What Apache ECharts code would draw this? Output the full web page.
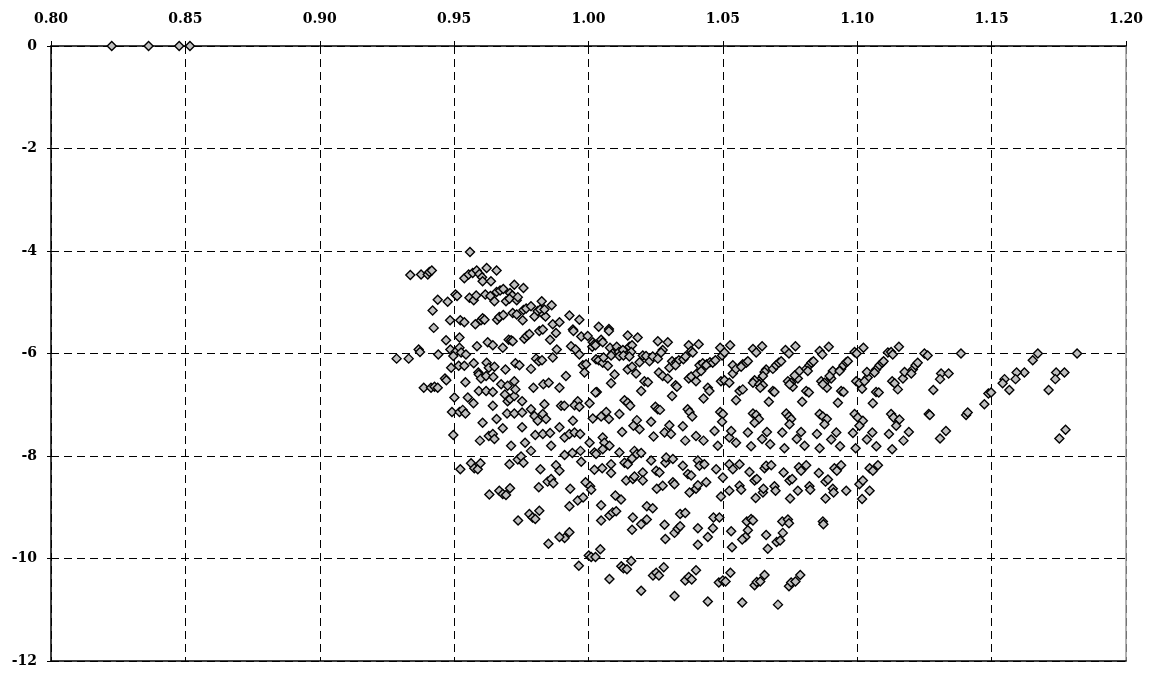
<!DOCTYPE html>
<html>
<head>
<meta charset="utf-8">
<script src="https://cdn.jsdelivr.net/npm/echarts@6/dist/echarts.min.js"></script>
<style>
html,body{margin:0;padding:0;background:#fff;}
#chart{width:1168px;height:675px;}
</style>
</head>
<body>
<div id="chart"></div>
<script>
// Axis ranges / ticks
const xMin = 0.80, xMax = 1.20, xStep = 0.05;
const yMin = -12, yMax = 0, yStep = 2;

// Data: [x, y] pairs
const axisRow = [[0.8226,0],[0.8363,0],[0.8477,0],[0.8517,0]];

const leftCloud = [
[0.9559,-4.02],[0.9337,-4.47],[0.9377,-4.46],[0.9402,-4.46],[0.9408,-4.41],[0.9417,-4.38],[0.9538,-4.53],[0.9554,-4.46],[0.9569,-4.43],[0.9584,-4.38],[0.9594,-4.45],[0.9604,-4.51],[0.9606,-4.59],[0.9621,-4.33],[0.9637,-4.59],[0.9658,-4.38],[0.9724,-4.66],[0.9758,-4.72],[0.9439,-4.95],[0.9476,-4.99],[0.9505,-4.85],[0.9511,-4.88],[0.9557,-4.91],[0.9573,-4.96],[0.9582,-4.87],[0.9616,-4.85],[0.9635,-4.88],[0.9650,-4.98],[0.9658,-4.80],[0.9671,-4.77],[0.9683,-4.74],[0.9693,-4.98],[0.9708,-4.82],[0.9716,-4.87],[0.9706,-4.93],[0.9733,-4.96],[0.9737,-4.90],[0.9826,-4.98],[0.9863,-5.06],
[0.9420,-5.16],[0.9485,-5.35],[0.9523,-5.35],[0.9538,-5.39],[0.9579,-5.43],[0.9600,-5.35],[0.9606,-5.31],[0.9613,-5.34],[0.9660,-5.34],[0.9668,-5.29],[0.9683,-5.25],[0.9718,-5.21],[0.9733,-5.24],[0.9755,-5.35],[0.9758,-5.15],[0.9768,-5.12],[0.9786,-5.08],[0.9799,-5.28],[0.9811,-5.17],[0.9820,-5.14],[0.9832,-5.24],[0.9840,-5.28],[0.9836,-5.14],[0.9867,-5.43],[0.9892,-5.39],
[0.9424,-5.50],[0.9470,-5.74],[0.9520,-5.69],[0.9585,-5.86],[0.9625,-5.78],[0.9644,-5.84],[0.9681,-5.89],[0.9703,-5.73],[0.9712,-5.74],[0.9718,-5.76],[0.9761,-5.71],[0.9770,-5.66],[0.9780,-5.62],[0.9817,-5.56],[0.9830,-5.53],[0.9857,-5.73],[0.9879,-5.60],
[0.9368,-5.92],[0.9373,-5.97],[0.9486,-5.92],[0.9505,-5.97],[0.9520,-5.89],[0.9526,-5.98],[0.9544,-6.02],[0.9286,-6.10],[0.9331,-6.10],[0.9441,-6.02],[0.9489,-6.28],[0.9517,-6.24],[0.9538,-6.24],[0.9497,-6.05],[0.9573,-6.19],[0.9590,-6.37],[0.9621,-6.18],[0.9629,-6.28],[0.9650,-6.26],[0.9691,-6.31],[0.9728,-6.19],[0.9743,-6.23],[0.9786,-6.30],[0.9805,-6.10],[0.9815,-6.15],[0.9827,-6.13],[0.9867,-6.08],[0.9882,-5.92],
[0.9466,-6.49],[0.9471,-6.52],[0.9592,-6.41],[0.9600,-6.49],[0.9619,-6.44],[0.9646,-6.46],[0.9675,-6.60],[0.9724,-6.54],[0.9699,-6.63],[0.9795,-6.67],[0.9832,-6.60],[0.9852,-6.57],[0.9892,-6.67],[0.9916,-6.44],
[0.9387,-6.67],[0.9414,-6.67],[0.9427,-6.65],[0.9439,-6.67],[0.9542,-6.56],[0.9501,-6.86],[0.9551,-6.86],[0.9572,-6.97],[0.9592,-6.73],[0.9619,-6.73],[0.9644,-6.75],[0.9689,-6.80],[0.9699,-6.93],[0.9708,-6.89],[0.9724,-6.83],[0.9728,-6.70],[0.9753,-6.93],[0.9836,-6.99],[0.9898,-7.02],
[0.9492,-7.14],[0.9520,-7.14],[0.9532,-7.10],[0.9542,-7.17],[0.9606,-7.35],[0.9644,-7.02],[0.9658,-7.28],[0.9681,-7.46],[0.9697,-7.17],[0.9724,-7.17],[0.9753,-7.15],[0.9753,-7.44],[0.9786,-7.09],[0.9799,-7.22],[0.9811,-7.31],[0.9830,-7.18],[0.9842,-7.28],[0.9910,-7.02],[0.9892,-7.44],
[0.9929,-5.26],[0.9942,-5.53],[0.9966,-5.34],[1.0038,-5.48],[1.0076,-5.52]
];

const midCloud = [
[0.9935,-5.86],[0.9944,-5.56],[0.9952,-5.92],[0.9966,-6.02],[0.9973,-5.67],[0.9997,-5.66],[1.0014,-5.87],[1.0016,-5.78],[1.0022,-5.82],[1.0026,-5.84],[1.0047,-5.73],[1.0053,-5.78],[1.0076,-5.56],[1.0080,-5.89],[1.0105,-5.87],[1.0090,-6.00],[1.0113,-5.97],[1.0128,-5.93],[1.0146,-5.65],[1.0152,-5.87],[1.0162,-5.84],[1.0183,-5.69],[1.0258,-5.76],[1.0295,-5.78],[1.0373,-5.84],[1.0410,-5.82],[1.0490,-5.89],[1.0527,-5.84],
[1.0028,-6.11],[1.0038,-6.13],[1.0053,-6.18],[1.0072,-6.24],[1.0056,-6.08],[1.0084,-6.04],[1.0115,-6.05],[1.0130,-6.04],[1.0159,-5.97],[1.0152,-6.06],[1.0190,-6.17],[1.0202,-6.04],[1.0214,-6.05],[1.0227,-6.15],[1.0239,-6.06],[1.0258,-6.10],[1.0276,-5.93],[1.0270,-5.98],[1.0311,-6.15],[1.0326,-6.17],[1.0336,-6.13],[1.0353,-6.11],[1.0361,-6.06],[1.0382,-5.95],[1.0388,-5.98],[1.0413,-6.23],[1.0425,-6.19],[1.0440,-6.21],[1.0452,-6.17],[1.0462,-6.18],[1.0472,-6.13],[1.0497,-6.04],[1.0506,-5.98],[1.0537,-6.23],
[0.9979,-6.23],[0.9991,-6.21],[0.9985,-6.37],[1.0097,-6.41],[1.0084,-6.58],[1.0146,-6.31],[1.0162,-6.26],[1.0177,-6.39],[1.0208,-6.54],[1.0221,-6.56],[1.0262,-6.37],[1.0276,-6.44],[1.0295,-6.49],[1.0301,-6.28],[1.0324,-6.23],[1.0373,-6.49],[1.0382,-6.45],[1.0400,-6.54],[1.0403,-6.39],[1.0419,-6.34],[1.0438,-6.23],[1.0444,-6.67],[1.0450,-6.73],[1.0493,-6.54],[1.0506,-6.52],[1.0524,-6.57],[1.0537,-6.39],[1.0549,-6.30],
[1.0196,-6.73],[1.0031,-6.75],[1.0026,-6.76],[1.0311,-6.83],[1.0324,-6.62],[1.0329,-6.65],[1.0428,-6.88],[1.0549,-6.91],[1.0562,-6.73],
[0.9960,-6.93],[0.9948,-7.01],[0.9966,-7.04],[1.0004,-6.97],[1.0134,-6.91],[1.0146,-6.96],[1.0155,-7.02],[1.0249,-7.04],[1.0258,-7.09],[1.0266,-7.10],[1.0369,-7.09],[1.0376,-7.14],[1.0386,-7.23],[1.0490,-7.14],[1.0500,-7.18],[1.0497,-7.33],
[1.0016,-7.27],[1.0047,-7.23],[1.0066,-7.14],[1.0076,-7.28],[1.0115,-7.18],[0.9942,-7.31],[1.0180,-7.30],[1.0167,-7.41],[1.0233,-7.33],[1.0301,-7.40],[1.0351,-7.42]
];

const rightCloud = [
[1.0612,-5.91],[1.0646,-5.86],[1.0624,-5.98],[1.0733,-5.93],[1.0770,-5.86],[1.0746,-6.00],[1.0860,-5.95],[1.0894,-5.87],[1.0870,-6.02],[1.0990,-5.97],[1.1023,-5.89],[1.0998,-6.00],[1.1114,-5.98],[1.1126,-5.97],[1.1155,-5.87],[1.1132,-6.02],
[1.0574,-6.21],[1.0587,-6.18],[1.0593,-6.15],[1.0568,-6.26],[1.0661,-6.31],[1.0686,-6.30],[1.0698,-6.23],[1.0708,-6.18],[1.0717,-6.15],[1.0655,-6.36],[1.0649,-6.44],[1.0634,-6.54],[1.0618,-6.52],[1.0612,-6.57],[1.0636,-6.60],[1.0649,-6.62],[1.0639,-6.67],
[1.0742,-6.54],[1.0754,-6.57],[1.0760,-6.65],[1.0779,-6.49],[1.0785,-6.34],[1.0767,-6.43],[1.0748,-6.60],[1.0810,-6.30],[1.0822,-6.23],[1.0829,-6.18],[1.0837,-6.15],[1.0816,-6.34],[1.0810,-6.73],[1.0820,-6.76],[1.0795,-6.94],[1.0686,-6.73],[1.0692,-6.75],[1.0671,-6.94],[1.0574,-6.70],
[1.0866,-6.54],[1.0878,-6.57],[1.0887,-6.67],[1.0903,-6.49],[1.0909,-6.34],[1.0897,-6.44],[1.0872,-6.60],[1.0940,-6.30],[1.0949,-6.23],[1.0959,-6.17],[1.0965,-6.15],[1.0934,-6.34],[1.0940,-6.73],[1.0949,-6.75],[1.0928,-6.96],
[1.0996,-6.54],[1.1008,-6.58],[1.1018,-6.69],[1.1039,-6.47],[1.1036,-6.36],[1.1027,-6.54],[1.1070,-6.31],[1.1083,-6.23],[1.1093,-6.18],[1.1098,-6.15],[1.1064,-6.37],[1.1070,-6.75],[1.1080,-6.76],[1.1058,-6.97],
[1.1130,-6.54],[1.1139,-6.58],[1.1151,-6.70],[1.1170,-6.49],[1.1176,-6.36],[1.1207,-6.31],[1.1217,-6.23],[1.1225,-6.18],[1.1201,-6.39],
[1.0612,-7.17],[1.0624,-7.20],[1.0634,-7.28],[1.0618,-7.35],[1.0736,-7.17],[1.0746,-7.23],[1.0754,-7.28],[1.0748,-7.38],[1.0860,-7.18],[1.0872,-7.23],[1.0887,-7.28],[1.0878,-7.38],[1.0990,-7.18],[1.1002,-7.25],[1.1021,-7.31],[1.1008,-7.41],[1.1126,-7.18],[1.1135,-7.25],[1.1157,-7.29],[1.1145,-7.41]
];

const farRight = [
[1.1250,-6.00],[1.1262,-6.04],[1.1386,-6.00],[1.1312,-6.39],[1.1340,-6.39],[1.1308,-6.50],[1.1283,-6.71],[1.1266,-7.18],[1.1270,-7.20],[1.1330,-7.51],[1.1308,-7.66],[1.1405,-7.20],[1.1411,-7.15],[1.1473,-6.99],[1.1488,-6.78],[1.1498,-6.76],
[1.1818,-6.00],[1.1672,-6.00],[1.1653,-6.13],[1.1622,-6.37],[1.1593,-6.37],[1.1589,-6.50],[1.1548,-6.50],[1.1541,-6.58],[1.1566,-6.71],[1.1740,-6.37],[1.1771,-6.37],[1.1737,-6.50],[1.1712,-6.71],[1.1775,-7.49],[1.1752,-7.66]
];

const lowerLeft = [
[0.9497,-7.59],[0.9596,-7.70],[0.9629,-7.61],[0.9644,-7.57],[0.9650,-7.67],[0.9712,-7.80],[0.9764,-7.74],[0.9786,-7.90],[0.9802,-7.59],[0.9830,-7.57],[0.9857,-7.55],[0.9861,-7.80],
[0.9523,-8.26],[0.9563,-8.14],[0.9575,-8.24],[0.9588,-8.26],[0.9598,-8.14],[0.9706,-8.16],[0.9737,-8.07],[0.9749,-8.01],[0.9758,-8.13],[0.9821,-8.26],[0.9879,-8.18],
[0.9631,-8.75],[0.9668,-8.68],[0.9681,-8.74],[0.9693,-8.76],[0.9708,-8.63],[0.9815,-8.61],[0.9848,-8.50],[0.9861,-8.45],[0.9869,-8.53],
[0.9738,-9.26],[0.9780,-9.13],[0.9792,-9.20],[0.9802,-9.23],[0.9817,-9.07],[0.9851,-9.71]
];

const lowerMid = [
[0.9911,-7.64],[0.9929,-7.57],[0.9948,-7.54],[0.9969,-7.57],[1.0004,-7.74],[1.0022,-7.93],[1.0028,-7.96],[1.0053,-7.64],[1.0059,-7.74],[1.0053,-7.87],[1.0078,-7.80],[1.0125,-7.53],[1.0190,-7.48],[1.0242,-7.62],[1.0283,-7.54],[1.0307,-7.57],[1.0360,-7.70],[1.0400,-7.61],[1.0428,-7.70],[1.0469,-7.51],[1.0481,-7.80],[1.0524,-7.64],[1.0549,-7.74],[1.0531,-7.51],
[0.9911,-7.98],[0.9940,-7.94],[0.9970,-7.90],[0.9973,-8.11],[0.9892,-8.29],[1.0022,-8.27],[1.0051,-8.24],[1.0084,-8.16],[1.0084,-8.33],[1.0115,-7.93],[1.0134,-8.13],[1.0146,-8.16],[1.0162,-8.05],[1.0171,-7.90],[1.0180,-7.96],[1.0196,-7.94],[1.0140,-8.48],[1.0165,-8.45],[1.0171,-8.40],[1.0202,-8.32],[1.0202,-8.48],[1.0233,-8.09],[1.0252,-8.29],[1.0264,-8.32],[1.0286,-8.13],[1.0289,-8.03],[1.0314,-8.06],[1.0351,-8.19],[1.0370,-8.35],[1.0382,-8.38],[1.0407,-8.09],[1.0413,-8.19],[1.0431,-8.16],[1.0438,-8.51],[1.0475,-8.26],[1.0500,-8.42],[1.0524,-8.16],[1.0537,-8.26],
[0.9932,-8.64],[0.9989,-8.51],[1.0006,-8.59],[1.0010,-8.66],[0.9960,-8.87],[0.9980,-8.81],[0.9929,-8.98],[1.0047,-8.96],[1.0100,-8.77],[1.0121,-8.85],[1.0254,-8.64],[1.0276,-8.58],[1.0314,-8.51],[1.0320,-8.55],[1.0376,-8.71],[1.0400,-8.64],[1.0407,-8.57],[1.0493,-8.79],[1.0524,-8.68],
[1.0217,-8.98],[1.0239,-9.02],[1.0078,-9.16],[1.0090,-9.10],[1.0103,-9.08],[1.0047,-9.26],[1.0165,-9.20],[1.0196,-9.33],[1.0217,-9.24],[1.0162,-9.44],[1.0283,-9.34],[1.0286,-9.62],[1.0320,-9.50],[1.0332,-9.42],[1.0341,-9.37],[1.0341,-9.13],[1.0360,-9.11],[1.0407,-9.41],[1.0407,-9.73],[1.0444,-9.58],[1.0463,-9.41],[1.0465,-9.20],[1.0487,-9.20],[1.0531,-9.47],[1.0534,-9.78],
[0.9929,-9.49],[0.9911,-9.60],[0.9892,-9.58],[1.0001,-9.94],[1.0010,-9.97],[1.0026,-9.97],[1.0044,-9.82],[0.9964,-10.14],[1.0078,-10.40],[1.0122,-10.15],[1.0130,-10.19],[1.0143,-10.21],[1.0159,-10.05],[1.0196,-10.63],[1.0240,-10.33],[1.0252,-10.28],[1.0262,-10.33],[1.0280,-10.17],[1.0320,-10.73],[1.0360,-10.43],[1.0373,-10.36],[1.0384,-10.41],[1.0400,-10.23],[1.0444,-10.84],[1.0485,-10.47],[1.0500,-10.43],[1.0510,-10.45],[1.0528,-10.28]
];

const lowerRight = [
[1.0593,-7.54],[1.0605,-7.81],[1.0646,-7.67],[1.0664,-7.53],[1.0676,-7.77],[1.0721,-7.54],[1.0729,-7.85],[1.0775,-7.67],[1.0791,-7.53],[1.0804,-7.80],[1.0850,-7.57],[1.0860,-7.85],[1.0903,-7.68],[1.0922,-7.54],[1.0936,-7.81],[1.0984,-7.55],[1.0994,-7.85],[1.1036,-7.68],[1.1056,-7.54],[1.1071,-7.81],[1.1118,-7.57],[1.1130,-7.87],[1.1172,-7.70],[1.1192,-7.53],
[1.0562,-8.16],[1.0599,-8.31],[1.0618,-8.48],[1.0626,-8.45],[1.0622,-8.82],[1.0649,-8.71],[1.0651,-8.64],[1.0655,-8.24],[1.0661,-8.19],[1.0680,-8.18],[1.0692,-8.59],[1.0696,-8.68],[1.0726,-8.32],[1.0748,-8.48],[1.0758,-8.45],[1.0750,-8.83],[1.0779,-8.68],[1.0783,-8.22],[1.0791,-8.29],[1.0810,-8.18],[1.0822,-8.59],[1.0825,-8.66],[1.0857,-8.33],[1.0882,-8.50],[1.0891,-8.46],[1.0882,-8.83],[1.0909,-8.64],[1.0912,-8.71],[1.0915,-8.24],[1.0924,-8.29],[1.0940,-8.18],[1.0959,-8.68],[1.1008,-8.55],[1.1021,-8.48],[1.1018,-8.84],[1.1046,-8.68],[1.1046,-8.24],[1.1058,-8.29],[1.1077,-8.18],[1.0562,-8.58],[1.0568,-8.66],
[1.0589,-9.28],[1.0605,-9.23],[1.0612,-9.26],[1.0593,-9.45],[1.0584,-9.58],[1.0572,-9.63],[1.0661,-9.54],[1.0667,-9.81],[1.0700,-9.68],[1.0713,-9.65],[1.0723,-9.50],[1.0721,-9.28],[1.0742,-9.24],[1.0746,-9.31],[1.0872,-9.28],[1.0874,-9.33],
[1.0618,-10.52],[1.0626,-10.46],[1.0639,-10.45],[1.0655,-10.32],[1.0572,-10.86],[1.0705,-10.90],[1.0746,-10.54],[1.0754,-10.47],[1.0770,-10.45],[1.0788,-10.32]
];

const allPoints = [].concat(axisRow, leftCloud, midCloud, rightCloud, farRight, lowerLeft, lowerMid, lowerRight);

const labelFont = {fontFamily: 'DejaVu Serif', fontWeight: 'bold', fontSize: 14, color: '#000'};
const dashed = {show: true, lineStyle: {color: '#000', width: 1, type: [8, 5]}};

const chart = echarts.init(document.getElementById('chart'), null, {renderer: 'canvas'});
chart.setOption({
  animation: false,
  backgroundColor: '#fff',
  grid: {left: 51, right: 42, top: 46, bottom: 14, containLabel: false},
  xAxis: [{
    type: 'value', position: 'top', min: xMin, max: xMax, interval: xStep,
    axisLine: {show: true, onZero: false, lineStyle: {color: '#000', width: 1.5}},
    axisTick: {show: true, length: 5, lineStyle: {color: '#000'}},
    axisLabel: Object.assign({margin: 20, formatter: v => v.toFixed(2), showMaxLabel: true, showMinLabel: true}, labelFont),
    splitLine: dashed
  }, {
    type: 'value', position: 'bottom', min: xMin, max: xMax, interval: xStep,
    axisLine: {show: true, onZero: false, lineStyle: {color: '#000', width: 1.5}},
    axisTick: {show: false}, axisLabel: {show: false}, splitLine: {show: false}
  }],
  yAxis: [{
    type: 'value', min: yMin, max: yMax, interval: yStep,
    axisLine: {show: true, onZero: false, lineStyle: {color: '#000', width: 1.5}},
    axisTick: {show: true, length: 4, lineStyle: {color: '#000'}},
    axisLabel: Object.assign({margin: 14, formatter: v => String(v)}, labelFont),
    splitLine: dashed
  }, {
    type: 'value', position: 'right', min: yMin, max: yMax, interval: yStep,
    axisLine: {show: true, onZero: false, lineStyle: {color: '#9a9a9a', width: 1.5}},
    axisTick: {show: false}, axisLabel: {show: false}, splitLine: {show: false}
  }],
  series: [{
    type: 'scatter',
    xAxisIndex: 0, yAxisIndex: 0,
    symbol: 'diamond',
    symbolSize: 9,
    itemStyle: {color: '#c0c0c0', borderColor: '#000', borderWidth: 1.4, opacity: 1},
    data: allPoints,
    z: 5
  }]
});
</script>
</body>
</html>
